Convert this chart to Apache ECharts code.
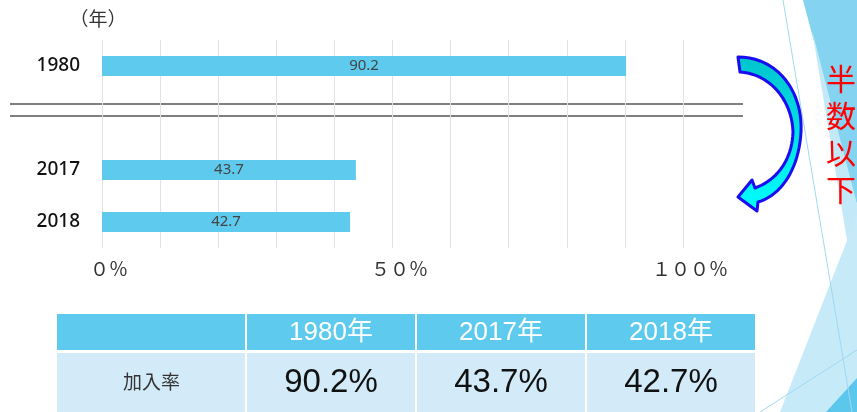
<!DOCTYPE html>
<html>
<head>
<meta charset="utf-8">
<script src="https://cdn.jsdelivr.net/npm/echarts@6/dist/echarts.min.js"></script>
<style>
  html, body { margin: 0; padding: 0; background: #ffffff; }
  #main { width: 857px; height: 412px; }
</style>
</head>
<body>
<div id="main"></div>
<script>
// Union membership rate (加入率), by year
const years = ['1980', '', '2017', '2018'];
const rates = [90.2, null, 43.7, 42.7];
const tableYears = ['1980年', '2017年', '2018年'];
const tableRates = [90.2, 43.7, 42.7];
const rowLabel = '加入率';
const tickValues = [0, 50, 100];
const tickLabels = ['０％', '５０％', '１００％'];
const unitLabel = '（年）';
const noteText = '半数以下';

const BAR = '#5ecbee';
const CJK = '"Noto Sans CJK JP", "Noto Sans", sans-serif';
const LATIN_CJK = '"Liberation Sans", "Noto Sans CJK JP", sans-serif';

const chart = echarts.init(document.getElementById('main'), null, { renderer: 'canvas' });

// table layout
const colX = [57, 246, 416, 586, 756];
const headY = 314, headH = 36, bodyY = 352, bodyH = 60;

function tableGraphics() {
  const els = [];
  for (let c = 0; c < 4; c++) {
    const x0 = colX[c] + (c ? 1 : 0), w = colX[c + 1] - x0 - 1;
    els.push({ type: 'rect', shape: { x: x0, y: headY, width: w, height: headH }, style: { fill: BAR } });
    els.push({ type: 'rect', shape: { x: x0, y: bodyY + 1, width: w, height: bodyH }, style: { fill: '#d3ebf8' } });
    const cx = (colX[c] + colX[c + 1]) / 2;
    if (c === 0) {
      els.push({ type: 'text', x: cx, y: bodyY + 30, style: { text: rowLabel, fill: '#333', font: '400 19px ' + CJK, align: 'center', verticalAlign: 'middle' } });
    } else {
      els.push({ type: 'text', x: cx, y: headY + headH / 2 + 1, style: { text: tableYears[c - 1], fill: '#ffffff', font: '400 26px ' + LATIN_CJK, align: 'center', verticalAlign: 'middle' } });
      els.push({ type: 'text', x: cx, y: bodyY + 31, style: { text: tableRates[c - 1] + '%', fill: '#111', font: '400 33px ' + LATIN_CJK, align: 'center', verticalAlign: 'middle' } });
    }
  }
  return els;
}

// slide decoration on the right edge
const deco = [
  { type: 'polygon', shape: { points: [[803, 0], [857, 0], [857, 205]] }, style: { fill: '#84d3f0' } },
  { type: 'polygon', shape: { points: [[812, 30], [857, 205], [857, 300]] }, style: { fill: '#c3e9f8' } },
  { type: 'polygon', shape: { points: [[857, 215], [857, 412], [780, 412]] }, style: { fill: '#c6eaf8' } },
  { type: 'polygon', shape: { points: [[826, 412], [857, 378], [857, 412]] }, style: { fill: '#5cc7ec' } },
  { type: 'line', shape: { x1: 783, y1: 0, x2: 852, y2: 412 }, style: { stroke: '#9ed9f1', lineWidth: 1 } },
  { type: 'line', shape: { x1: 760, y1: 412, x2: 857, y2: 350 }, style: { stroke: '#9ed9f1', lineWidth: 1 } }
];

// curved arrow outline: cubic segments sampled into a polygon
function cubic(p0, p1, p2, p3, n) {
  const pts = [];
  for (let i = 1; i <= n; i++) {
    const t = i / n, u = 1 - t;
    pts.push([
      u * u * u * p0[0] + 3 * u * u * t * p1[0] + 3 * u * t * t * p2[0] + t * t * t * p3[0],
      u * u * u * p0[1] + 3 * u * u * t * p1[1] + 3 * u * t * t * p2[1] + t * t * t * p3[1]
    ]);
  }
  return pts;
}
function arrowPoints() {
  let pts = [[738, 57]];
  pts = pts.concat(cubic([738, 57], [778, 57], [803, 92], [801, 132], 20));
  pts = pts.concat(cubic([801, 132], [799, 168], [782, 195], [758, 202], 20));
  pts.push([757, 211], [738, 197], [752, 180], [755, 188]);
  pts = pts.concat(cubic([755, 188], [777, 180], [792, 160], [793, 132], 20));
  pts = pts.concat(cubic([793, 132], [792, 100], [770, 74], [740, 72], 20));
  return pts;
}

const option = {
  animation: false,
  grid: { left: 102, right: 174, top: 40, bottom: 164 },
  xAxis: {
    type: 'value', min: 0, max: 100, interval: 10,
    axisLine: { show: false }, axisTick: { show: false },
    splitLine: { show: true, lineStyle: { color: '#e2e2e2', width: 1 } },
    axisLabel: {
      margin: 11, color: '#333', fontSize: 19, fontFamily: CJK, fontWeight: 400,
      padding: [0, 0, 0, 14],
      formatter: v => { const i = tickValues.indexOf(v); return i >= 0 ? tickLabels[i] : ''; }
    }
  },
  yAxis: {
    type: 'category', data: years, inverse: true,
    axisLine: { show: false }, axisTick: { show: false },
    axisLabel: { margin: 22, color: '#111', fontSize: 19, fontFamily: '"Noto Sans", sans-serif', fontWeight: 500 }
  },
  series: [{
    type: 'bar', data: rates, barWidth: 20,
    itemStyle: { color: BAR },
    label: { show: true, position: 'inside', color: '#444', fontSize: 15, fontFamily: '"Noto Sans", sans-serif', formatter: '{c}' }
  }],
  graphic: [
    ...deco,
    { type: 'text', x: 98, y: 19, style: { text: unitLabel, fill: '#333', font: '400 19px ' + CJK, align: 'center', verticalAlign: 'middle' } },
    { type: 'line', shape: { x1: 10, y1: 104, x2: 743, y2: 104 }, style: { stroke: '#555', lineWidth: 1.3 } },
    { type: 'line', shape: { x1: 10, y1: 116, x2: 743, y2: 116 }, style: { stroke: '#555', lineWidth: 1.3 } },
    {
      type: 'polygon', shape: { points: arrowPoints() },
      style: {
        fill: { type: 'linear', x: 0, y: 0, x2: 0, y2: 1, colorStops: [
          { offset: 0, color: '#00c4cc' }, { offset: 1, color: '#00ffff' }
        ] },
        stroke: '#1a0cf0', lineWidth: 3, lineJoin: 'round'
      }
    },
    { type: 'text', x: 841, y: 134, style: { text: noteText.split('').join('\n'), fill: '#ff0000', font: '400 30px ' + CJK, lineHeight: 37, align: 'center', verticalAlign: 'middle' } },
    ...tableGraphics()
  ]
};

chart.setOption(option);
</script>
</body>
</html>
